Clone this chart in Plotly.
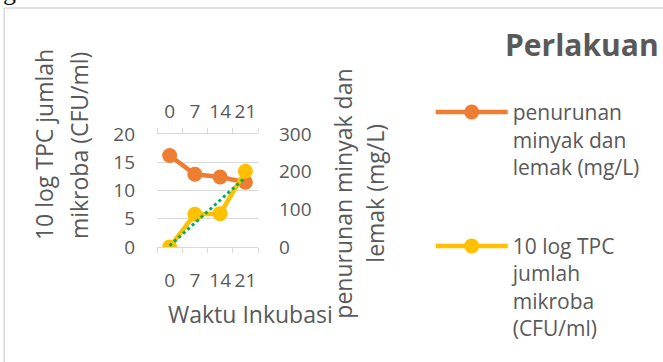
import numpy as np
import plotly.graph_objects as go

# Sampling days (incubation time) and measured values
days = ["0", "7", "14", "21"]
tpc_log = [0.0, 5.8, 5.9, 13.4]        # 10 log TPC jumlah mikroba (CFU/ml)
oil_grease = [243, 193, 186, 172]      # penurunan minyak dan lemak (mg/L)

ORANGE = "#ED7D31"
YELLOW = "#FFC000"
GREEN = "#00B050"
TEXT = "#595959"
GRID = "#D9D9D9"
FONT = "Open Sans"

W, H = 663, 362
# plot area edges in pixels
L, R, T, B = 157.3, 258.3, 133.5, 247.5


def fx(px):
    return (px - L) / (R - L)


def fy(py):
    return (B - py) / (B - T)


# linear trend of the TPC series over the sampling index (1..n)
idx = np.arange(1, len(days) + 1)
slope, icpt = np.polyfit(idx, tpc_log, 1)
tpc_trend = slope * idx + icpt

fig = go.Figure()

fig.add_trace(go.Scatter(
    x=days, y=oil_grease, xaxis="x", yaxis="y",
    name="penurunan<br>minyak dan<br>lemak (mg/L)",
    mode="lines+markers",
    line=dict(color=ORANGE, width=4.5),
    marker=dict(color=ORANGE, size=15),
    legendgroup="g1",
))
fig.add_trace(go.Scatter(
    x=days, y=tpc_log, xaxis="x2", yaxis="y2",
    name="10 log TPC<br>jumlah<br>mikroba<br>(CFU/ml)",
    mode="lines+markers",
    line=dict(color=YELLOW, width=4.5),
    marker=dict(color=YELLOW, size=15),
    legendgroup="g2",
))
fig.add_trace(go.Scatter(
    x=days, y=tpc_trend, xaxis="x2", yaxis="y2",
    mode="lines", showlegend=False,
    line=dict(color=GREEN, width=3, dash="3px,3px"),
))

cat_axis = dict(
    type="category", range=[-0.5, 3.5], tickson="boundaries",
    ticks="outside", ticklen=5, tickwidth=1, tickcolor=GRID,
    showline=True, linecolor=GRID, linewidth=1, showgrid=False,
    zeroline=False, tickangle=0,
    tickfont=dict(family=FONT, size=19, color=TEXT),
    fixedrange=True,
)

fig.update_layout(
    width=W, height=H,
    margin=dict(l=L, r=W - R, t=T, b=H - B, pad=0),
    paper_bgcolor="white", plot_bgcolor="white",
    font=dict(family=FONT, color=TEXT),
    xaxis=dict(cat_axis, side="top", anchor="y", ticklabelstandoff=7),
    xaxis2=dict(cat_axis, side="bottom", anchor="y2", overlaying="x",
                ticklabelstandoff=16),
    yaxis=dict(side="right", range=[0, 300], dtick=100, showgrid=False,
               zeroline=False, ticks="", showline=False,
               tickfont=dict(family=FONT, size=19, color=TEXT),
               ticklabelstandoff=20, fixedrange=True),
    yaxis2=dict(side="left", overlaying="y", range=[0, 20], dtick=5,
                showgrid=True, gridcolor=GRID, gridwidth=1, zeroline=False,
                ticks="", showline=False,
                tickfont=dict(family=FONT, size=19, color=TEXT),
                ticklabelstandoff=21, fixedrange=True),
    legend=dict(
        x=fx(431), y=fy(91), xanchor="left", yanchor="top",
        font=dict(family=FONT, size=21, color=TEXT),
        valign="top", itemwidth=72, tracegroupgap=49,
        traceorder="grouped", bgcolor="rgba(0,0,0,0)",
        maxheight=360,
    ),
    showlegend=True,
)

annotations = [
    # legend heading
    dict(text="<b>Perlakuan</b>", x=fx(582), y=fy(43),
         font=dict(family=FONT, size=30, color=TEXT)),
    # left axis title, two lines
    dict(text="10 log TPC jumlah", x=fx(45), y=fy(144),
         textangle=-90, font=dict(family=FONT, size=23, color=TEXT)),
    dict(text="mikroba (CFU/ml)", x=fx(80), y=fy(145),
         textangle=-90, font=dict(family=FONT, size=23, color=TEXT)),
    # right axis title, two lines
    dict(text="penurunan minyak dan", x=fx(343), y=fy(194),
         textangle=-90, font=dict(family=FONT, size=23, color=TEXT)),
    dict(text="lemak (mg/L)", x=fx(375), y=fy(193),
         textangle=-90, font=dict(family=FONT, size=23, color=TEXT)),
    # x axis title
    dict(text="Waktu Inkubasi", x=fx(251), y=fy(315),
         font=dict(family=FONT, size=23, color=TEXT)),
    # running text line above the chart frame
    dict(text="gambar 7 dan 8 berikut ini", x=fx(1), y=fy(-10),
         xanchor="left", font=dict(family="Liberation Serif", size=26,
                                   color="#111111")),
]
for a in annotations:
    a.setdefault("xref", "paper")
    a.setdefault("yref", "paper")
    a.setdefault("xanchor", "center")
    a.setdefault("yanchor", "middle")
    a["showarrow"] = False
fig.update_layout(annotations=annotations)

# chart frame (top and left edges visible)
fig.add_shape(type="line", xref="paper", yref="paper",
              x0=fx(4.5), x1=fx(700), y0=fy(6.5), y1=fy(6.5),
              line=dict(color=GRID, width=1.5))
fig.add_shape(type="line", xref="paper", yref="paper",
              x0=fx(4.5), x1=fx(4.5), y0=fy(6.5), y1=fy(400),
              line=dict(color=GRID, width=1.5))

fig.write_html("out.html")
